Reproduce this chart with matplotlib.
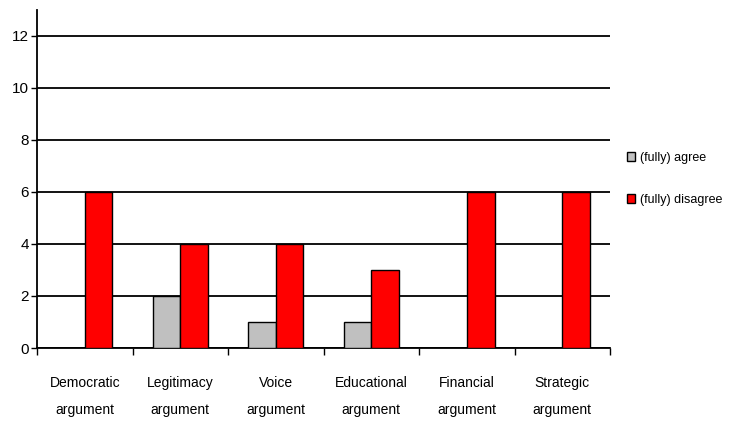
import numpy as np
import matplotlib.pyplot as plt

categories = ['Democratic\nargument', 'Legitimacy\nargument', 'Voice\nargument',
              'Educational\nargument', 'Financial\nargument', 'Strategic\nargument']
agree = [0, 2, 1, 1, 0, 0]
disagree = [6, 4, 4, 3, 6, 6]

plt.rcParams['font.family'] = ['Liberation Sans Narrow', 'Liberation Sans', 'DejaVu Sans']

fig = plt.figure(figsize=(7.31, 4.23), dpi=100)
ax = fig.add_axes([0.0506, 0.1773, 0.784, 0.7991])

x = np.arange(len(categories))
w = 0.29
ax.bar(x - w / 2, agree, w, color='#c0c0c0', edgecolor='black', linewidth=1, label='(fully) agree', zorder=3)
ax.bar(x + w / 2, disagree, w, color='#ff0000', edgecolor='black', linewidth=1, label='(fully) disagree', zorder=3)

ax.set_xlim(-0.5, len(categories) - 0.5)
ax.set_ylim(0, 13)
ax.set_yticks(range(0, 13, 2))
ax.yaxis.grid(True, color='black', linewidth=1.3, zorder=0)
for s in ['top', 'right']:
    ax.spines[s].set_visible(False)
ax.spines['left'].set_linewidth(1.3)
ax.spines['bottom'].set_linewidth(1.3)

ax.set_xticks(x)
ax.set_xticklabels(categories, fontsize=10, linespacing=2.2)
ax.tick_params(axis='x', length=0, pad=20)
ax.set_xticks(np.arange(-0.5, len(categories)), minor=True)
ax.tick_params(axis='x', which='minor', length=5, width=1)
ax.tick_params(axis='y', length=4, width=1, labelsize=11, pad=2)

ax.legend(loc='center left', bbox_to_anchor=(1.01, 0.50), frameon=False, fontsize=9,
          handlelength=0.65, handleheight=0.65, handletextpad=0.35, labelspacing=2.4)

fig.savefig('out.png', dpi=100)
